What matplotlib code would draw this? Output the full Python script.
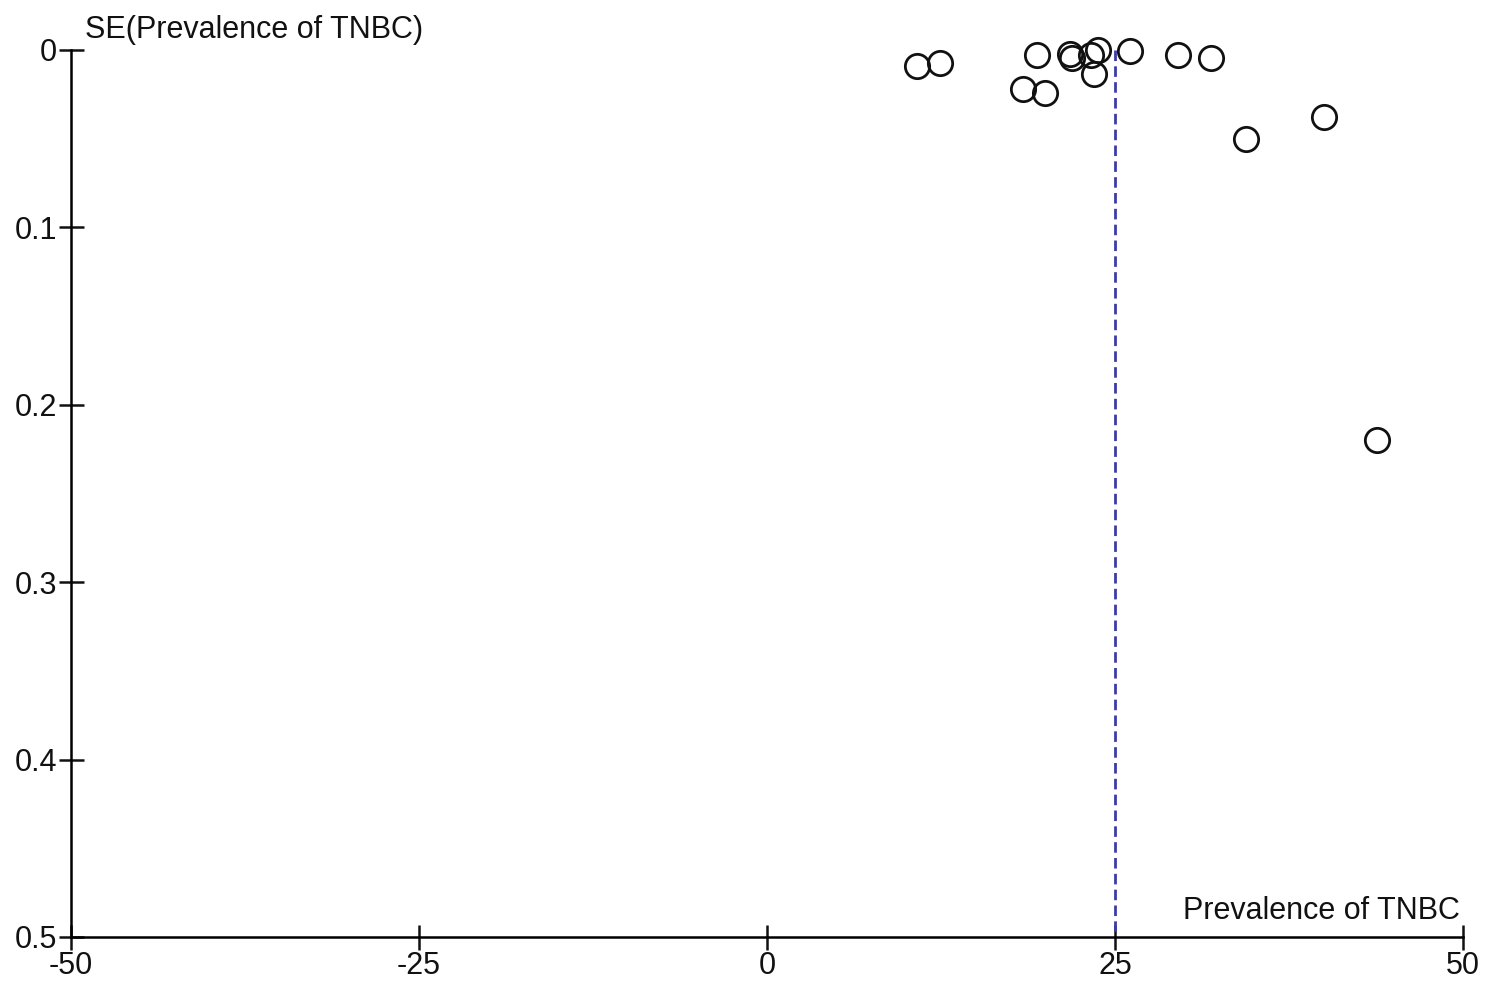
import numpy as np
import matplotlib
matplotlib.use("Agg")
import matplotlib.pyplot as plt

plt.rcParams['font.family'] = ['Liberation Sans', 'DejaVu Sans']

# study estimates
prevalence = [10.8, 12.4, 19.4, 18.4, 20.0, 21.8, 21.9, 23.3, 23.8, 23.5,
              26.1, 29.5, 31.9, 34.4, 40.0, 43.8]
se = [0.0090, 0.0075, 0.0030, 0.0220, 0.0240, 0.0020, 0.0045, 0.0030, 0.0000,
      0.0135, 0.0005, 0.0030, 0.0045, 0.0500, 0.0375, 0.2200]
pooled = 25
x_ticks = [-50, -25, 0, 25, 50]
y_ticks = [0, 0.1, 0.2, 0.3, 0.4, 0.5]

fig = plt.figure(figsize=(15, 10.02), dpi=100)
ax = fig.add_axes([0.0473, 0.0649, 0.928, 0.8852])

ax.plot(prevalence, se, 'o', ms=17.5, mfc='none', mec='#111111', mew=2, clip_on=False, zorder=3)
ax.plot([pooled, pooled], [0, 0.5], '--', color='#3c3ca6', lw=2, dashes=(3.8, 1.9), zorder=2)

ax.set_xlim(-50, 50)
ax.set_ylim(0.5, 0)
ax.set_xticks(x_ticks)
ax.set_xticklabels([str(t) for t in x_ticks])
ax.set_yticks(y_ticks)
ax.set_yticklabels(['0', '0.1', '0.2', '0.3', '0.4', '0.5'])
for s in ['top', 'right']:
    ax.spines[s].set_visible(False)
for s in ['left', 'bottom']:
    ax.spines[s].set_linewidth(1.8)
ax.tick_params(direction='inout', length=18, width=1.8, labelsize=22, colors='#111111', pad=1)

ax.text(0.01, 1.022, 'SE(Prevalence of TNBC)', transform=ax.transAxes, fontsize=22,
        ha='left', va='center', color='#111111')
ax.text(0.998, 0.012, 'Prevalence of TNBC', transform=ax.transAxes, fontsize=22,
        ha='right', va='bottom', color='#111111')

fig.savefig('out.png', dpi=100)
